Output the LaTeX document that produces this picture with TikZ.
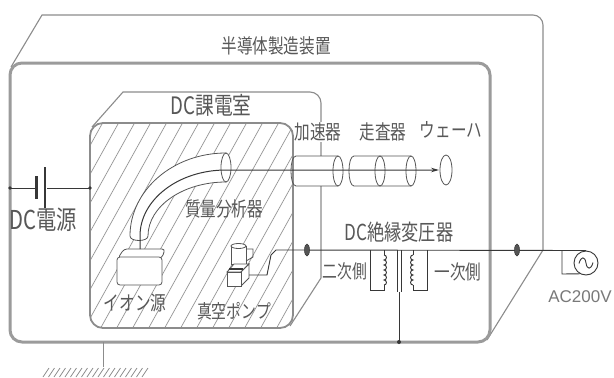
\documentclass[tikz,border=0pt]{standalone}
\usepackage{fontspec}
\setmainfont{Liberation Sans}
\newfontfamily\jp[FakeStretch=0.78]{Noto Sans CJK JP}
\usetikzlibrary{arrows.meta}
\definecolor{txt}{RGB}{88,88,88}
\definecolor{wallc}{RGB}{155,155,155}
\definecolor{edgec}{RGB}{140,140,140}
\definecolor{wirec}{RGB}{55,55,55}
\definecolor{hatchc}{RGB}{150,150,150}

\begin{document}
\begin{tikzpicture}[x=1pt,y=-1pt,
  lbl/.style={font={\jp\fontsize{#1}{#1}\selectfont},text=txt,inner sep=0pt},
  backline/.style={draw=edgec,line width=1.1pt},
  frontwall/.style={draw=wallc,line width=3pt},
  chamber/.style={draw=edgec,line width=1.8pt},
  hatchline/.style={draw=hatchc,line width=0.7pt},
  part/.style={draw=wirec!85,line width=0.8pt},
  wire/.style={draw=wirec,line width=0.9pt},
  insul/.style={fill=wirec!85,draw=wirec,line width=0.5pt},
  dot/.style={fill=wirec}]
\useasboundingbox (0,0) rectangle (614,378);
\fill[white] (0,0) rectangle (614,378);

% rear outline of the apparatus housing
\draw[backline] (11,67) -- (42,15) [rounded corners=10pt] -- (543,15) -- (543,60)
  [sharp corners] -- (543,250) -- (487,340);
% front wall of the housing
\draw[frontwall,rounded corners=12pt] (10,63) rectangle (490,342);

% rear outline of the DC room
\draw[backline] (92,127) -- (123,92) [rounded corners=11pt] -- (321,92) -- (321,140)
  [sharp corners] -- (321,278) -- (290,326);

% hatched front of the DC room
\fill[white,rounded corners=13pt] (90,123) rectangle (293,328);
\begin{scope}
  \clip[rounded corners=13pt] (90,123) rectangle (293,328);
  \foreach \x in {-50,-34,...,300} \draw[hatchline] (\x,340) -- ++(125,-225);
\end{scope}
\draw[chamber,rounded corners=13pt] (90,123) rectangle (293,328);

% mass analyser tube
\draw[part,fill=white] (130,236) .. controls (130,190.2) and (173,153) .. (226,153)
  -- (226,182) .. controls (183,182) and (148,206.2) .. (148,236)
  .. controls (148,242) and (130,242) .. (130,236) -- cycle;
\draw[part,fill=white] (226,167.5) ellipse[x radius=5pt,y radius=14.5pt];

% ion source
\draw[part,fill=white,rounded corners=3pt] (118,258) -- (124,249) -- (165,249) -- (162,258) -- cycle;
\draw[part,fill=white,rounded corners=3pt] (117,257) rectangle (162,285);

% vacuum pump
\draw[part,fill=white] (231,246) -- (231,264) -- (246,264) -- (246,246);
\draw[part,fill=white] (238.5,246) ellipse[x radius=7.5pt,y radius=2.5pt];
\draw[part] (246,249) -- (253,249) -- (253,257) -- (246,261);
\draw[part,fill=white] (227,272) -- (234,264) -- (249,264) -- (241,272) -- cycle;
\draw[part,fill=white] (241,272) -- (249,264) -- (249,278) -- (241,286) -- cycle;
\draw[part,fill=white] (227,272) rectangle (241,286);
\draw[wirec,line width=1.6pt] (229,269) -- (243,269);

% accelerator
\fill[white] (296,156) rectangle (338,186);
\draw[part] (338,156) -- (296,156) .. controls (289.3,156) and (289.3,186) .. (296,186) -- (338,186);
\draw[part,fill=white] (338,171) ellipse[x radius=5pt,y radius=15pt];

% scanner
\fill[white] (354,156) rectangle (411,186);
\draw[part] (411,156) -- (354,156) .. controls (347.3,156) and (347.3,186) .. (354,186) -- (411,186);
\draw[part,fill=white] (380,171) ellipse[x radius=5pt,y radius=15pt];
\draw[part,fill=white] (411,171) ellipse[x radius=5pt,y radius=15pt];

% wafer
\draw[part,fill=white] (446,170) ellipse[x radius=6pt,y radius=15pt];

% ion beam
\coordinate (src) at (140,249);
\coordinate (tgt) at (439,170);
\draw[wire,line width=1pt,-{Stealth[length=8pt,width=4.5pt]}] (src) -- (140,236)
  .. controls (140,199.6) and (178.5,170) .. (226,170) -- (tgt);

% DC supply between housing and DC room
\coordinate (hl) at (10,188);
\coordinate (dl) at (90,188);
\draw[wire] (hl) -- (35,188);
\draw[wire] (47,188) -- (dl);
\draw[wirec,line width=2.4pt] (36.5,176) -- (36.5,199);
\draw[wirec,line width=1.6pt] (45,167) -- (45,208);
\fill[dot] (hl) circle[radius=1.8pt];
\fill[dot] (dl) circle[radius=1.8pt];

% supply line from pump through the walls to the mains
\coordinate (pp) at (249,275);
\coordinate (acn) at (586,250.5);
\draw[wire] (pp) -- (267,275) -- (271,255) -- (276,250) -- (acn);
\draw[insul] (307,250) ellipse[x radius=2.5pt,y radius=6pt];
\draw[insul] (517,250) ellipse[x radius=2.5pt,y radius=6pt];

% isolation transformer
\draw[wire] (370,250) -- (370,290) -- (384,290) -- (384,285);
\draw[wire] (384,285) \foreach \k in {0,...,5} { arc[start angle=-90,end angle=90,radius=2.5pt] };
\draw[wire] (384,255) -- (384,250);
\draw[wire] (427,250) -- (427,290) -- (413,290) -- (413,285);
\draw[wire] (413,285) \foreach \k in {0,...,5} { arc[start angle=-90,end angle=-270,radius=2.5pt] };
\draw[wire] (413,255) -- (413,250);
\draw[wire] (397,250) -- (397,292);
\draw[wire] (401,250) -- (401,292);
\coordinate (core) at (399,292);
\coordinate (gnd) at (399,342);
\draw[wire] (core) -- (gnd);
\fill[dot] (gnd) circle[radius=2pt];

% mains source
\node[draw=wirec,line width=0.9pt,circle,minimum size=24pt,inner sep=0pt] (mains) at (586,263) {};
\draw[wire] (579,263.5) .. controls (581,256) and (585,256) .. (586,263)
  .. controls (587,270) and (591,270) .. (593,262.5);
\draw[wire] (562,250) -- (562,274) -- (mains.240);

% earth
\coordinate (hb) at (103,342);
\coordinate (ea) at (103,367);
\draw[wire,draw=edgec] (hb) -- (ea);
\foreach \x in {43,48.5,...,143} \draw[edgec,line width=0.8pt] (\x,377) -- ++(6,-9);

% labels
\node[lbl=20] (title) at (276,46) {半導体製造装置};
\node[lbl=24] (dcroom) at (211,105) {DC課電室};
\node[lbl=20,fill=white,inner sep=1pt] (acc) at (318,132) {加速器};
\node[lbl=20] (scan) at (383,132) {走査器};
\node[lbl=20] (wfr) at (451,130) {ウェーハ};
\node[lbl=26] (dcsrc) at (43,220) {DC電源};
\node[lbl=20] (mass) at (224,209) {質量分析器};
\node[lbl=22] (xfmr) at (399,232) {DC絶縁変圧器};
\node[lbl=19] (sec) at (345,271) {二次側};
\node[lbl=20] (pri) at (458,272) {一次側};
\node[lbl=20] (ion) at (135,303) {イオン源};
\node[lbl=19] (pmp) at (234,311) {真空ポンプ};
\node[font=\fontsize{17}{17}\selectfont,text=txt!80,inner sep=0pt] (ac) at (580,297) {AC200V};
\end{tikzpicture}
\end{document}
